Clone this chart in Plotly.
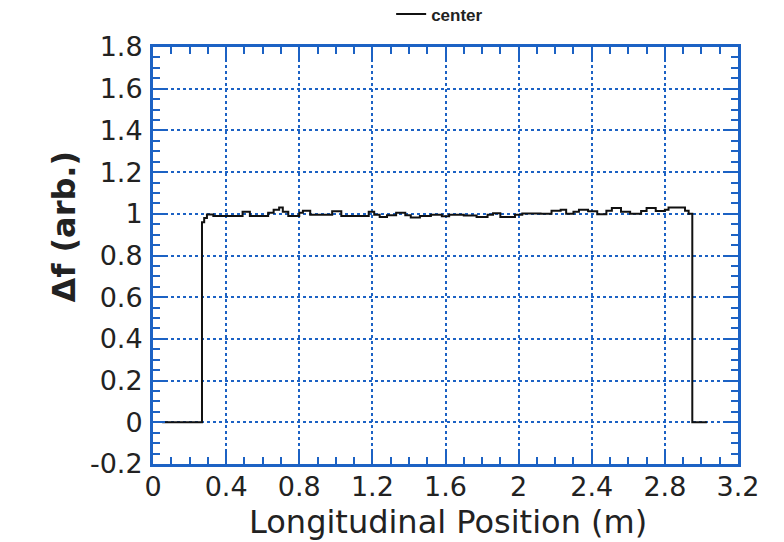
import plotly.graph_objects as go

# Longitudinal profile of the frequency shift (stepped measurement)
position_m = [0.05, 0.268, 0.28, 0.295, 0.33, 0.49, 0.53, 0.63, 0.66, 0.69, 0.71, 0.74,
              0.80, 0.82, 0.86, 0.98, 1.03, 1.18, 1.21, 1.24, 1.28, 1.33, 1.38, 1.41,
              1.46, 1.52, 1.58, 1.62, 1.70, 1.77, 1.83, 1.86, 1.90, 1.98, 2.02, 2.12,
              2.18, 2.23, 2.26, 2.30, 2.33, 2.38, 2.43, 2.48, 2.51, 2.56, 2.61, 2.67,
              2.70, 2.75, 2.80, 2.82, 2.88, 2.91, 2.93, 2.95, 3.03]
delta_f = [0.0, 0.96, 0.98, 0.997, 0.99, 1.01, 0.99, 1.005, 1.02, 1.03, 1.01, 0.99,
           1.005, 1.015, 0.995, 1.012, 0.99, 1.01, 0.995, 0.985, 0.993, 1.005, 0.993, 0.982,
           0.99, 0.995, 0.988, 0.996, 0.992, 0.985, 0.996, 1.003, 0.985, 0.995, 1.002, 1.0,
           1.015, 1.02, 1.0, 1.01, 1.02, 1.012, 0.998, 1.015, 1.028, 1.01, 1.0, 1.013,
           1.028, 1.013, 1.02, 1.03, 1.03, 1.015, 1.0, 0.0, 0.0]

x_ticks = [0, 0.4, 0.8, 1.2, 1.6, 2, 2.4, 2.8, 3.2]
x_tick_text = ["0", "0.4", "0.8", "1.2", "1.6", "2", "2.4", "2.8", "3.2"]
y_ticks = [-0.2, 0, 0.2, 0.4, 0.6, 0.8, 1, 1.2, 1.4, 1.6, 1.8]
y_tick_text = ["-0.2", "0", "0.2", "0.4", "0.6", "0.8", "1", "1.2", "1.4", "1.6", "1.8"]

BLUE = "#1c62c4"
TEXT = "#222222"
FONT = "DejaVu Sans"

fig = go.Figure()
fig.add_trace(go.Scatter(
    x=position_m, y=delta_f, mode="lines", name="<b>center</b>",
    line=dict(color="#111111", width=2, shape="hv"),
))

axis_common = dict(
    showline=True, linecolor=BLUE, linewidth=3, mirror="allticks",
    ticks="inside", tickcolor=BLUE, tickwidth=2, ticklen=12,
    showgrid=True, gridcolor=BLUE, gridwidth=2, griddash="dot",
    zeroline=False,
    tickfont=dict(family=FONT, size=27, color=TEXT),
)

fig.update_xaxes(
    range=[0, 3.2], tickvals=x_ticks, ticktext=x_tick_text, ticklabelstandoff=-3,
    minor=dict(dtick=0.1, ticks="inside", ticklen=7, tickcolor=BLUE, tickwidth=2, showgrid=False),
    **axis_common,
)
fig.update_yaxes(
    range=[-0.2, 1.8], tickvals=y_ticks, ticktext=y_tick_text, ticklabelstandoff=2,
    minor=dict(dtick=0.05, ticks="inside", ticklen=7, tickcolor=BLUE, tickwidth=2, showgrid=False),
    **axis_common,
)

# Axis titles placed as annotations for precise positioning
fig.add_annotation(
    text="Longitudinal Position (m)", xref="paper", yref="paper", x=0.505, y=-0.188,
    showarrow=False, xanchor="center", yanchor="bottom", borderpad=0,
    font=dict(family=FONT, size=32, color=TEXT),
)
fig.add_annotation(
    text="<b>Δf (arb.)</b>", xref="paper", yref="paper", x=-0.152, y=0.57,
    textangle=-90, showarrow=False, xanchor="center", yanchor="middle",
    font=dict(family=FONT, size=32, color=TEXT),
)

fig.update_layout(
    width=784, height=542,
    margin=dict(l=153, r=46, t=47, b=78, autoexpand=False),
    paper_bgcolor="white", plot_bgcolor="white",
    showlegend=True,
    legend=dict(orientation="h", x=0.49, y=1.035, xanchor="center", yanchor="bottom",
                font=dict(family="Liberation Sans", size=17, color=TEXT),
                itemwidth=30, bgcolor="rgba(0,0,0,0)"),
)

fig.write_html("out.html")
